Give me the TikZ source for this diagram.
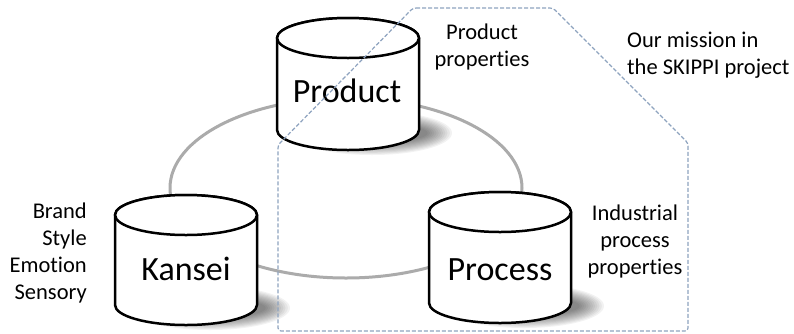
\documentclass[tikz,border=0pt]{standalone}
\usepackage{fontspec}
\setmainfont{Carlito}[Ligatures={NoCommon,NoDiscretionary,NoContextual}]
\definecolor{ringgray}{HTML}{ABABAB}
\definecolor{dashblue}{HTML}{8EA3BF}
\tikzset{
  cylline/.style={line width=2.5pt, draw=black, fill=white, line join=round},
  ringline/.style={line width=3pt, draw=ringgray},
  missionline/.style={draw=dashblue, line width=1.2pt, dash pattern=on 4pt off 2pt, rounded corners=3pt},
  biglabel/.style={font=\fontsize{34}{40}\selectfont, inner sep=0pt, anchor=base},
  smalllabel/.style={font=\fontsize{22.5}{27}\selectfont, inner sep=0pt},
}
% cylinder: centre x, top centre y, bottom centre y (pixel values, y downwards)
\newcommand\mycyl[3]{%
  \foreach \k in {0,...,11}{%
    \fill[black, opacity=0.05] (#1+24, -#3-3) ellipse [x radius={80pt-\k*2.2pt}, y radius={22pt-\k*1.1pt}];
  }
  \draw[cylline] (#1-71, -#2) -- (#1-71, -#3)
    arc[start angle=180, end angle=360, x radius=71pt, y radius=20pt]
    -- (#1+71, -#2)
    arc[start angle=0, end angle=180, x radius=71pt, y radius=20pt] -- cycle;
  \draw[cylline] (#1, -#2) ellipse [x radius=71pt, y radius=20pt];
}
\begin{document}
\begin{tikzpicture}[x=1pt, y=1pt]
  \useasboundingbox (0,0) rectangle (794,-333);
  % ring
  \draw[ringline] (346,-188) ellipse [x radius=176pt, y radius=90pt];
  % cylinders
  \mycyl{348}{38}{130}
  \mycyl{186}{215}{305}
  \mycyl{500}{212}{303}
  \node[biglabel] (product) at (347,-102) {Product};
  \node[biglabel] (kansei) at (186,-280) {Kansei};
  \node[biglabel] (process) at (500,-280) {Process};
  % side labels
  \node[smalllabel, align=center, anchor=north] (prodprop) at (482,-24) {Product\\properties};
  \node[smalllabel, align=left, anchor=north west] (mission) at (627,-32) {Our mission in\\the SKIPPI project};
  \node[smalllabel, align=center, anchor=north] (procprop) at (635,-205) {Industrial\\process\\properties};
  \node[smalllabel, align=right, anchor=north east] (kanseiprop) at (87,-203) {Brand\\Style\\Emotion\\Sensory};
  % mission boundary
  \coordinate (m1) at (413,-8);
  \coordinate (m2) at (553,-8);
  \coordinate (m3) at (688,-143);
  \coordinate (m4) at (688,-331);
  \coordinate (m5) at (278,-331);
  \coordinate (m6) at (278,-145);
  \draw[missionline] (m1) -- (m2) -- (m3) -- (m4) -- (m5) -- (m6) -- cycle;
\end{tikzpicture}
\end{document}
